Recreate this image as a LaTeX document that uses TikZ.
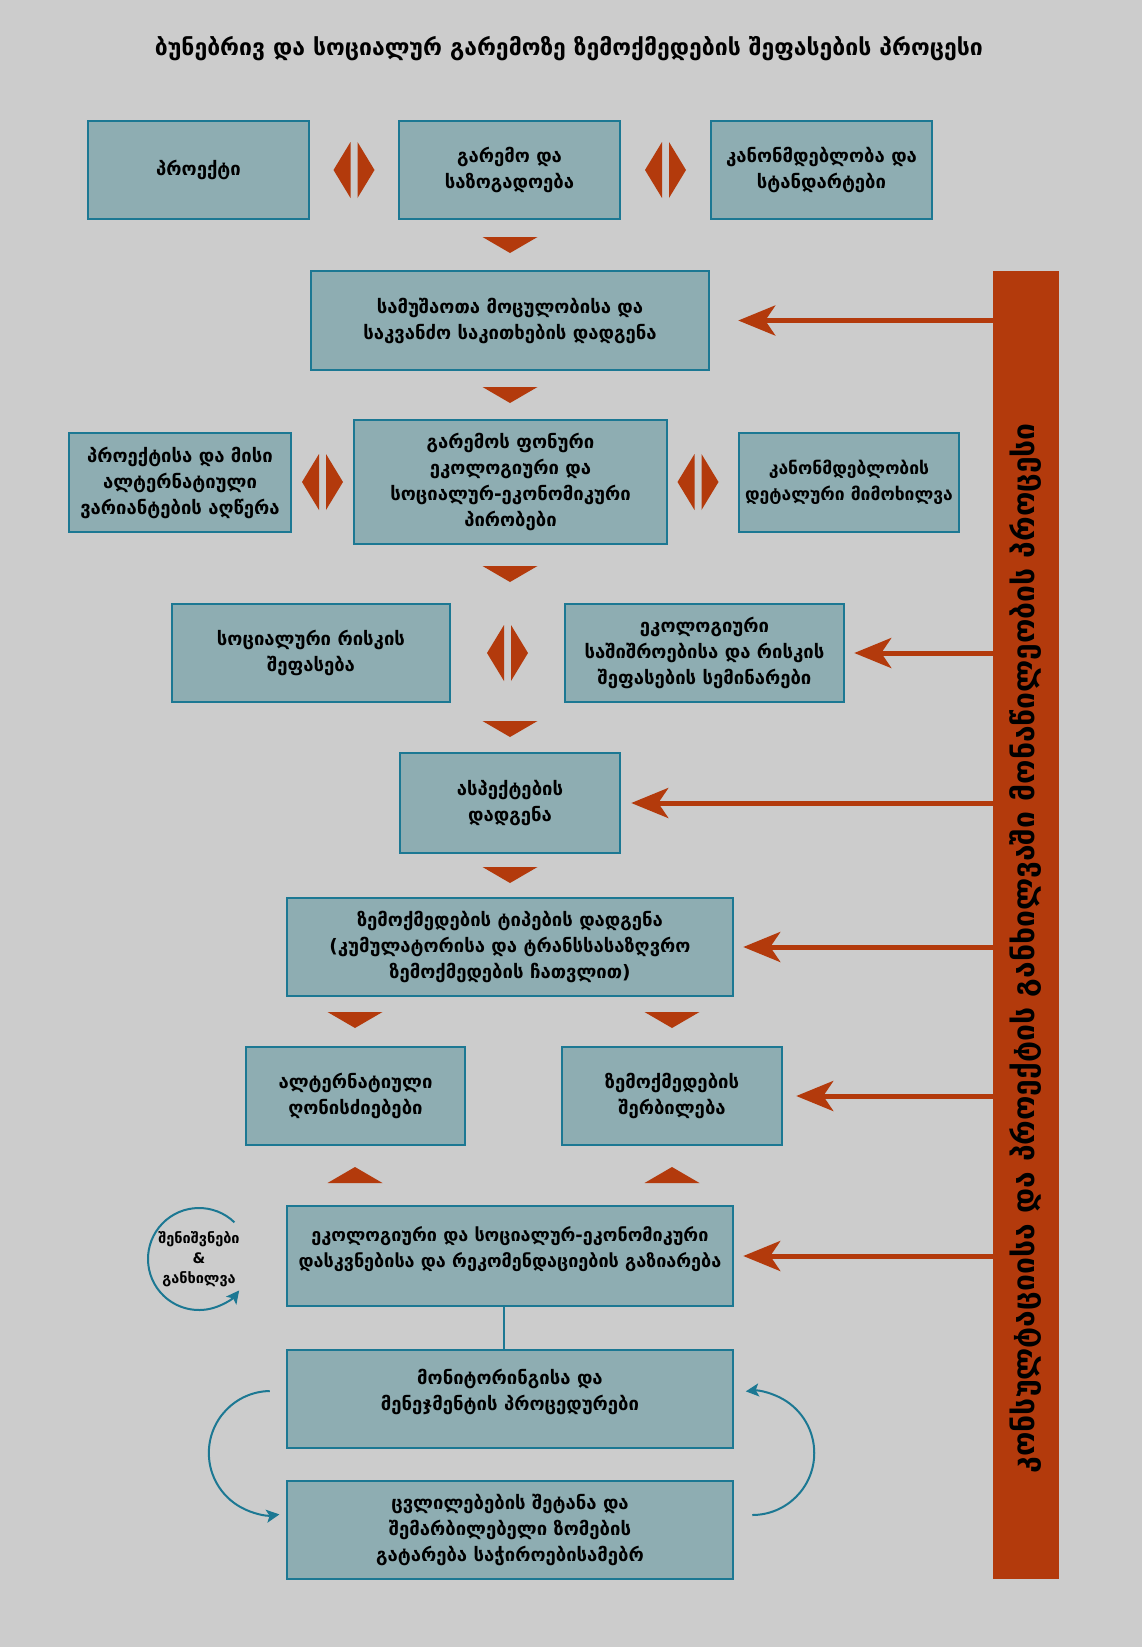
\documentclass[tikz,border=0pt]{standalone}
\usepackage{fontspec}
\setmainfont{DejaVu Sans}
\usetikzlibrary{arrows.meta}

\definecolor{paper}{HTML}{CCCCCC}
\definecolor{boxfill}{HTML}{8EADB2}
\definecolor{boxline}{HTML}{1C7893}
\definecolor{rust}{HTML}{B33A0C}

\begin{document}
\begin{tikzpicture}[x = 1pt, y = 1pt,
    stage/.style = {draw = boxline, fill = boxfill, line width = 2.5pt, align = center, inner sep = 2pt,
        font = \bfseries\fontsize{18.5}{26}\selectfont},
    feed/.style = {draw = rust, line width = 5pt, -{Stealth[length = 37pt, width = 30pt, inset = 10pt]}},
    loopto/.style = {draw = boxline, line width = 2pt, -{Stealth[length = 13pt, width = 13pt, inset = 3pt]}}]

    \fill[paper] (0, 0) rectangle (1142, -1647);
    \useasboundingbox (0, 0) rectangle (1142, -1647);

    \node[font = \bfseries\fontsize{23}{28}\selectfont] (title) at (569, -49) {ბუნებრივ და სოციალურ გარემოზე ზემოქმედების შეფასების პროცესი};

    \node[stage, minimum width = 221pt, minimum height = 98pt] (proj) at (198.5, -170) {პროექტი};
    \node[stage, minimum width = 221pt, minimum height = 98pt] (env) at (509.5, -170) {გარემო და\\საზოგადოება};
    \node[stage, minimum width = 221pt, minimum height = 98pt] (law) at (821.5, -170) {კანონმდებლობა და\\სტანდარტები};

    \node[stage, minimum width = 398pt, minimum height = 99pt] (scope) at (510, -320.5) {სამუშაოთა მოცულობისა და\\საკვანძო საკითხების დადგენა};

    \node[stage, minimum width = 222pt, minimum height = 99pt] (alts) at (180, -482.5) {პროექტისა და მისი\\ალტერნატიული\\ვარიანტების აღწერა};
    \node[stage, minimum width = 313pt, minimum height = 124pt] (base) at (510.5, -482) {გარემოს ფონური\\ეკოლოგიური და\\სოციალურ-ეკონომიკური\\პირობები};
    \node[stage, minimum width = 220pt, minimum height = 99pt, font = \bfseries\fontsize{17.5}{26}\selectfont] (lawrev) at (849, -482.5) {კანონმდებლობის\\დეტალური მიმოხილვა};

    \node[stage, minimum width = 278pt, minimum height = 98pt] (social) at (311, -653) {სოციალური რისკის\\შეფასება};
    \node[stage, minimum width = 279pt, minimum height = 98pt] (hazard) at (704.5, -653) {ეკოლოგიური\\საშიშროებისა და რისკის\\შეფასების სემინარები};

    \node[stage, minimum width = 220pt, minimum height = 100pt] (aspects) at (510, -803) {ასპექტების\\დადგენა};
    \node[stage, minimum width = 446pt, minimum height = 98pt] (types) at (510, -947) {ზემოქმედების ტიპების დადგენა\\(კუმულატორისა და ტრანსსასაზღვრო\\ზემოქმედების ჩათვლით)};

    \node[stage, minimum width = 219pt, minimum height = 98pt] (altmeas) at (355.5, -1096) {ალტერნატიული\\ღონისძიებები};
    \node[stage, minimum width = 220pt, minimum height = 98pt] (mitig) at (672, -1096) {ზემოქმედების\\შერბილება};

    \node[stage, minimum width = 446pt, minimum height = 100pt, font = \bfseries\fontsize{18}{26}\selectfont] (share) at (510, -1256) {ეკოლოგიური და სოციალურ-ეკონომიკური\\დასკვნებისა და რეკომენდაციების გაზიარება\\[-8pt]\mbox{}};
    \node[stage, minimum width = 446pt, minimum height = 98pt] (monitor) at (510, -1399) {მონიტორინგისა და\\მენეჯმენტის პროცედურები\\[-8pt]\mbox{}};
    \node[stage, minimum width = 446pt, minimum height = 98pt] (change) at (510, -1530) {ცვლილებების შეტანა და\\შემარბილებელი ზომების\\გატარება საჭიროებისამებრ};

    \node[font = \bfseries\fontsize{14.5}{20}\selectfont, align = center] (notes) at (199, -1259) {შენიშვნები\\\&\\განხილვა};

    \node[fill = rust, minimum width = 66pt, minimum height = 1308pt, inner sep = 0pt] (bar) at (1026, -925) {};
    \node[rotate = 90, font = \bfseries\fontsize{30}{34}\selectfont] (bartext) at (1026, -948) {კონსულტაციისა და პროექტის განხილვაში მონაწილეობის პროცესი};

    % rust markers between the stages
    \fill[rust] (350.5, -142) -- (350.5, -198) -- (333.5, -170) -- cycle (357.5, -142) -- (357.5, -198) -- (374.5, -170) -- cycle;
    \fill[rust] (662, -142) -- (662, -198) -- (645, -170) -- cycle (669, -142) -- (669, -198) -- (686, -170) -- cycle;
    \fill[rust] (319, -454) -- (319, -510) -- (302, -482) -- cycle (326, -454) -- (326, -510) -- (343, -482) -- cycle;
    \fill[rust] (694.5, -454) -- (694.5, -510) -- (677.5, -482) -- cycle (701.5, -454) -- (701.5, -510) -- (718.5, -482) -- cycle;
    \fill[rust] (504, -625) -- (504, -681) -- (487, -653) -- cycle (511, -625) -- (511, -681) -- (528, -653) -- cycle;

    \fill[rust] (482.5, -237) -- (537.5, -237) -- (510, -253) -- cycle;
    \fill[rust] (482.5, -387) -- (537.5, -387) -- (510, -403) -- cycle;
    \fill[rust] (482.5, -566) -- (537.5, -566) -- (510, -582) -- cycle;
    \fill[rust] (482.5, -721) -- (537.5, -721) -- (510, -737) -- cycle;
    \fill[rust] (482.5, -867) -- (537.5, -867) -- (510, -883) -- cycle;
    \fill[rust] (327.5, -1012) -- (382.5, -1012) -- (355, -1028) -- cycle;
    \fill[rust] (644.5, -1012) -- (699.5, -1012) -- (672, -1028) -- cycle;
    \fill[rust] (327.5, -1183) -- (382.5, -1183) -- (355, -1167) -- cycle;
    \fill[rust] (644.5, -1183) -- (699.5, -1183) -- (672, -1167) -- cycle;

    \draw[feed, shorten > = 28pt] (bar.west |- scope.east) -- (scope.east);
    \draw[feed, shorten > = 9pt] (bar.west |- hazard.east) -- (hazard.east);
    \draw[feed, shorten > = 10pt] (bar.west |- aspects.east) -- (aspects.east);
    \draw[feed, shorten > = 9pt] (bar.west |- types.east) -- (types.east);
    \draw[feed, shorten > = 13pt] (bar.west |- mitig.east) -- (mitig.east);
    \draw[feed, shorten > = 9pt] (bar.west |- share.east) -- (share.east);

    \draw[boxline, line width = 2pt] ([xshift = -6pt]share.south) -- ([xshift = -6pt]monitor.north);
    \draw[loopto] ([shift = {(46:51)}]notes.center) arc[start angle = 46, end angle = 322, radius = 51];
    \draw[loopto] ([shift = {(-16, 8)}]monitor.west) arc[start angle = 91, end angle = 278, radius = 62];
    \draw[loopto] ([shift = {(18, 15)}]change.east) arc[start angle = -90, end angle = 96, radius = 62];

\end{tikzpicture}
\end{document}
